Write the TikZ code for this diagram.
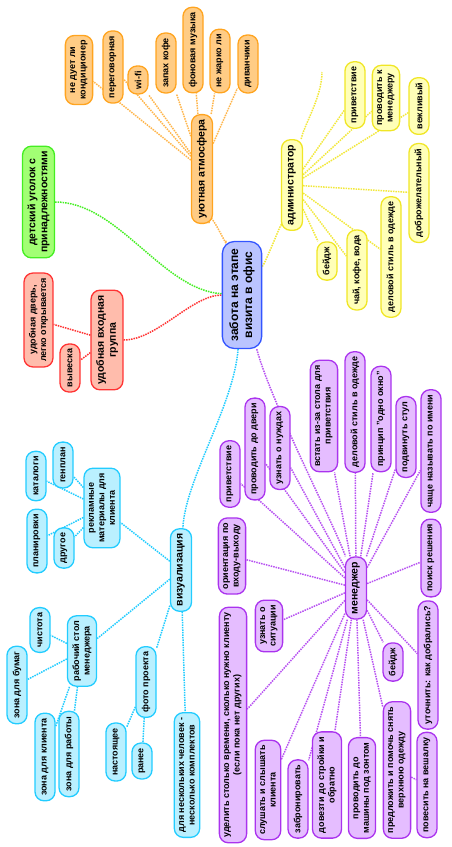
\documentclass[tikz,border=0pt]{standalone}
\usepackage{fontspec}
\setmainfont{Liberation Sans}
\usetikzlibrary{backgrounds}

\definecolor{rootfill}{HTML}{BAC4FF}
\definecolor{rootline}{HTML}{3355FF}
\definecolor{atmfill}{HTML}{FFCC85}
\definecolor{atmline}{HTML}{FFA41F}
\definecolor{admfill}{HTML}{FFFFB8}
\definecolor{admline}{HTML}{F0E626}
\definecolor{kidfill}{HTML}{A2FF74}
\definecolor{kidline}{HTML}{44EE22}
\definecolor{entfill}{HTML}{FFBCAC}
\definecolor{entline}{HTML}{FF3333}
\definecolor{visfill}{HTML}{BAF0FF}
\definecolor{visline}{HTML}{22CCFF}
\definecolor{mgrfill}{HTML}{E5BDFF}
\definecolor{mgrline}{HTML}{AA33EE}

\tikzset{
  box/.style={rotate=90, align=center, rounded corners=9pt, line width=1.3pt,
    inner xsep=5pt, inner ysep=5pt, minimum height=20pt,
    font=\bfseries\fontsize{9}{10.5}\selectfont},
  branch/.style={minimum height=21pt, font=\bfseries\fontsize{10.5}{12}\selectfont},
  rootbox/.style={box, rounded corners=12pt, inner xsep=7pt, inner ysep=7pt,
    draw=rootline, fill=rootfill, font=\bfseries\fontsize{12}{14}\selectfont},
  atmbox/.style={box, draw=atmline, fill=atmfill},
  admbox/.style={box, draw=admline, fill=admfill},
  kidbox/.style={box, draw=kidline, fill=kidfill},
  entbox/.style={box, draw=entline, fill=entfill},
  visbox/.style={box, draw=visline, fill=visfill},
  mgrbox/.style={box, draw=mgrline, fill=mgrfill},
  link/.style={line width=1.5pt, densely dotted},
  atmlink/.style={link, draw=atmline!80},
  admlink/.style={link, draw=admline!90},
  kidlink/.style={link, draw=kidline},
  entlink/.style={link, draw=entline},
  vislink/.style={link, draw=visline},
  mgrlink/.style={link, draw=mgrline!85},
}

\begin{document}
\begin{tikzpicture}[x=1pt, y=-1pt]
\useasboundingbox (0,0) rectangle (452,847);

% centre
\node[rootbox] (root) at (242,295) {забота на этапе\\визита в офис};

% atmosphere
\node[atmbox, branch] (atm) at (202,169) {уютная атмосфера};
\node[atmbox] (atm1) at (79,70) {не дует ли\\кондиционер};
\node[atmbox] (atm2) at (113,67) {переговорная};
\node[atmbox] (atm3) at (138,80) {wi-fi};
\node[atmbox] (atm4) at (166,63) {запах кофе};
\node[atmbox] (atm5) at (193,50) {фоновая музыка};
\node[atmbox] (atm6) at (220,61) {не жарко ли};
\node[atmbox] (atm7) at (248,64) {диванчики};

% administrator
\node[admbox, branch] (adm) at (292,185) {администратор};
\node[admbox] (adm1) at (355,95) {приветствие};
\node[admbox] (adm2) at (386,98) {проводить к\\менеджеру};
\node[admbox] (adm3) at (419,106) {вежливый};
\node[admbox] (adm4) at (419,193) {доброжелательный};
\node[admbox] (adm5) at (391,257) {деловой стиль в одежде};
\node[admbox] (adm6) at (357,270) {чай, кофе, вода};
\node[admbox] (adm7) at (327,261) {бейдж};
\coordinate (admend) at (322,72);

% kids, entrance
\node[kidbox, branch] (kid) at (38.5,202) {детский уголок с\\принадлежностями};
\node[entbox, branch] (ent) at (107,340) {удобная входная\\группа};
\node[entbox] (ent1) at (38.5,320) {удобная дверь,\\легко открывается};
\node[entbox] (ent2) at (70,368) {вывеска};

% visualisation
\node[visbox, branch] (vis) at (181,570) {визуализация};
\node[visbox] (ads) at (102,508) {рекламные\\материалы для\\клиента};
\node[visbox] (ads1) at (63,465) {генплан};
\node[visbox] (ads2) at (36,476) {каталоги};
\node[visbox] (ads3) at (37,541) {планировки};
\node[visbox] (ads4) at (64,548) {другое};
\node[visbox] (desk) at (82,651) {рабочий стол\\менеджера};
\node[visbox] (desk1) at (40,630) {чистота};
\node[visbox] (desk2) at (17,685) {зона для бумаг};
\node[visbox] (desk3) at (45,757) {зона для клиента};
\node[visbox] (desk4) at (69,754) {зона для работы};
\node[visbox] (photo) at (146,682) {фото проекта};
\node[visbox] (photo1) at (116,752) {настоящее};
\node[visbox] (photo2) at (142,761) {ранее};
\node[visbox] (sets) at (187,775) {для нескольких человек -\\несколько комплектов};

% manager
\node[mgrbox, branch] (mgr) at (356,588) {менеджер};
\node[mgrbox] (mgr1) at (324,416) {встать из-за стола для\\приветствия};
\node[mgrbox] (mgr2) at (355,412) {деловой стиль в одежде};
\node[mgrbox] (mgr3) at (381,419) {принцип "одно окно"};
\node[mgrbox] (mgr4) at (406,437) {подвинуть стул};
\node[mgrbox] (mgr5) at (431,451) {чаще называть по имени};
\node[mgrbox] (mgr6) at (431,558) {поиск решения};
\node[mgrbox] (mgr7) at (230,474) {приветствие};
\node[mgrbox] (mgr8) at (255,449) {проводить до двери};
\node[mgrbox] (mgr9) at (280,448) {узнать о нуждах};
\node[mgrbox] (mgr10) at (232,556) {ориентация по\\входу-выходу};
\node[mgrbox] (mgr11) at (269,626) {узнать о\\ситуации};
\node[mgrbox] (mgr12) at (233,725) {уделить столько времени, сколько нужно клиенту\\(если пока нет других)};
\node[mgrbox] (mgr13) at (268,790) {слушать и слышать\\клиента};
\node[mgrbox] (mgr14) at (298,799) {забронировать};
\node[mgrbox] (mgr15) at (327,785) {довезти до стройки и\\обратно};
\node[mgrbox] (mgr16) at (362,788) {проводить до\\машины под зонтом};
\node[mgrbox] (mgr17) at (397,770) {предложить и помочь снять\\верхнюю одежду};
\node[mgrbox] (mgr18) at (427,785) {повесить на вешалку};
\node[mgrbox] (mgr19) at (393,662) {бейдж};
\node[mgrbox] (mgr20) at (428,665) {уточнить: как добрались?};

\begin{pgfonlayer}{background}
  % main branches
  \draw[atmlink] (root) .. controls +(-12,-40) and +(4,30) .. (atm);
  \draw[admlink] (root) .. controls +(25,-35) and +(-8,30) .. (adm);
  \draw[kidlink] (kid) .. controls +(80,0) and +(-80,-5) .. (root);
  \draw[entlink] (ent) .. controls +(50,0) and +(-50,0) .. (root);
  \draw[vislink] (root) .. controls +(-8,110) and +(4,-90) .. (vis);
  \draw[mgrlink] (root) .. controls +(30,110) and +(-20,-60) .. (mgr);

  \foreach \n in {1,...,7} {\draw[atmlink] (atm) -- (atm\n);}
  \foreach \n in {1,...,7} {\draw[admlink] (adm) -- (adm\n);}
  \draw[admlink] (adm) .. controls +(12,-60) and +(0,25) .. (admend);
  \foreach \n in {1,2} {\draw[entlink] (ent) -- (ent\n);}

  \foreach \n in {ads,desk,photo,sets} {\draw[vislink] (vis) -- (\n);}
  \foreach \n in {1,...,4} {\draw[vislink] (ads) -- (ads\n);}
  \foreach \n in {1,...,4} {\draw[vislink] (desk) -- (desk\n);}
  \foreach \n in {1,2} {\draw[vislink] (photo) -- (photo\n);}

  \foreach \n in {1,...,17,19,20} {\draw[mgrlink] (mgr) -- (mgr\n);}
  \draw[mgrlink] (mgr17) -- (mgr18);
\end{pgfonlayer}
\end{tikzpicture}
\end{document}
